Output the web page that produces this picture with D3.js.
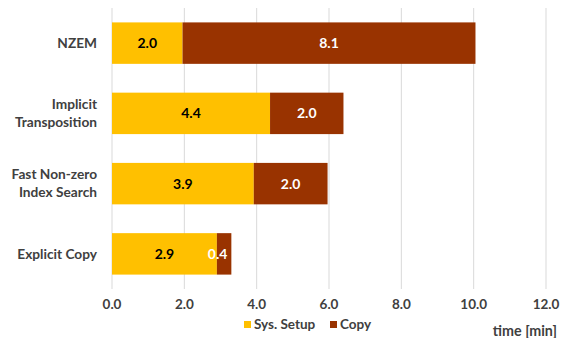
<!DOCTYPE html>
<html><head><meta charset="utf-8">
<script src="https://cdn.jsdelivr.net/npm/d3@7"></script>
<style>body{margin:0;background:#fff}svg{display:block}text{font-family:Lato,"Open Sans",sans-serif;font-weight:bold}</style>
</head><body><svg width="566" height="338"></svg>
<script>
const categories = [["NZEM"], ["Implicit", "Transposition"], ["Fast Non-zero", "Index Search"], ["Explicit Copy"]];
const sysSetup = [1.95, 4.37, 3.92, 2.9];
const copy = [8.1, 2.03, 2.04, 0.4];
const sysLabels = ["2.0", "4.4", "3.9", "2.9"];
const copyLabels = ["8.1", "2.0", "2.0", "0.4"];
const xTicks = [0, 2, 4, 6, 8, 10, 12];
const seriesNames = ["Sys. Setup", "Copy"];
const colors = ["#FFC000", "#993300"];

const svg = d3.select("svg");
const x = d3.scaleLinear().domain([0, 12]).range([112, 546]);
const y = d3.scaleBand().domain(d3.range(categories.length)).range([8, 289]).paddingInner(0.41).paddingOuter(0.205);

// gridlines
svg.append("g").selectAll("line").data(xTicks).join("line")
  .attr("x1", d => x(d)).attr("x2", d => x(d)).attr("y1", 8).attr("y2", 289)
  .attr("stroke", "#d9d9d9").attr("stroke-width", 1);

const rows = categories.map((c, i) => ({i, s: sysSetup[i], c: copy[i]}));
const g = svg.append("g");
g.selectAll("rect.s").data(rows).join("rect").attr("class", "s")
  .attr("x", d => x(0)).attr("width", d => x(d.s) - x(0))
  .attr("y", d => y(d.i)).attr("height", y.bandwidth()).attr("fill", colors[0]);
g.selectAll("rect.c").data(rows).join("rect").attr("class", "c")
  .attr("x", d => x(d.s)).attr("width", d => x(d.s + d.c) - x(d.s))
  .attr("y", d => y(d.i)).attr("height", y.bandwidth()).attr("fill", colors[1]);

g.selectAll("text.sl").data(rows).join("text")
  .attr("x", d => x(d.s / 2)).attr("y", d => y(d.i) + y.bandwidth() / 2)
  .attr("dy", "0.35em").attr("text-anchor", "middle").attr("font-size", 14).attr("fill", "#000")
  .text(d => sysLabels[d.i]);
g.selectAll("text.cl").data(rows).join("text")
  .each(function(d) {
    const w = x(d.s + d.c) - x(d.s);
    const narrow = w < 24;
    d3.select(this)
      .attr("x", narrow ? x(d.s + d.c) - 4 : x(d.s + d.c / 2))
      .attr("text-anchor", narrow ? "end" : "middle");
  })
  .attr("y", d => y(d.i) + y.bandwidth() / 2)
  .attr("dy", "0.35em").attr("font-size", 14).attr("fill", "#fff")
  .text(d => copyLabels[d.i]);

// category labels
const cl = svg.append("g").selectAll("text").data(categories).join("text")
  .attr("text-anchor", "end").attr("font-size", 13.7).attr("fill", "#404040");
cl.each(function(lines, i) {
  const t = d3.select(this);
  const cy = y(i) + y.bandwidth() / 2;
  lines.forEach((ln, k) => {
    t.append("tspan").attr("x", 97)
      .attr("y", cy + (k - (lines.length - 1) / 2) * 18).attr("dy", "0.35em").text(ln);
  });
});

// x axis labels
svg.append("g").selectAll("text").data(xTicks).join("text")
  .attr("x", d => x(d)).attr("y", 304).attr("dy", "0.35em").attr("text-anchor", "middle")
  .attr("font-size", 13.5).attr("fill", "#404040").text(d => d3.format(".1f")(d));

// legend
const leg = svg.append("g");
const legX = [244, 330];
seriesNames.forEach((n, i) => {
  leg.append("rect").attr("x", legX[i]).attr("y", 321).attr("width", 7).attr("height", 7).attr("fill", colors[i]);
  leg.append("text").attr("x", legX[i] + 10).attr("y", 324.5).attr("dy", "0.35em")
    .attr("font-size", 13.5).attr("fill", "#404040").text(n);
});
svg.append("text").attr("x", 557).attr("y", 330.5).attr("dy", "0.35em").attr("text-anchor", "end")
  .attr("font-size", 14.3).attr("fill", "#404040").text("time [min]");
</script></body></html>
